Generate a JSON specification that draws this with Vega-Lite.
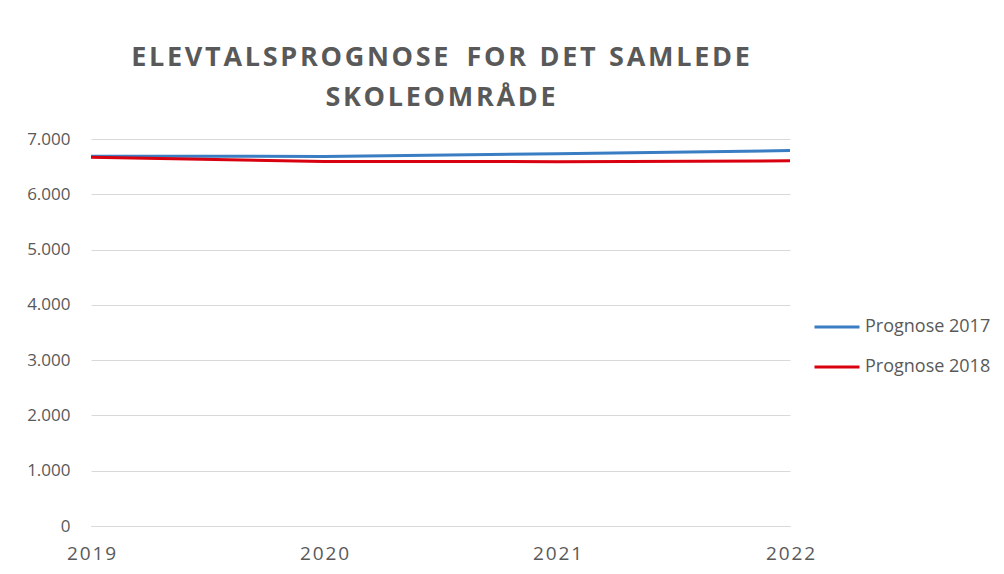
{
  "$schema": "https://vega.github.io/schema/vega-lite/v6.json",
  "width": 699,
  "height": 387,
  "autosize": {"type": "none"},
  "padding": {"left": 91, "top": 139, "right": 214, "bottom": 48},
  "background": "white",
  "title": {
    "text": ["E\u200aL\u200aE\u200aV\u200aT\u200aA\u200aL\u200aS\u200aP\u200aR\u200aO\u200aG\u200aN\u200aO\u200aS\u200aE\u2002\u2009F\u200aO\u200aR\u2002D\u200aE\u200aT\u2002S\u200aA\u200aM\u200aL\u200aE\u200aD\u200aE", "S\u200aK\u200aO\u200aL\u200aE\u200aO\u200aM\u200aR\u200aÅ\u200aD\u200aE"],
    "font": "Open Sans",
    "fontSize": 27,
    "fontWeight": "bold",
    "color": "#595959",
    "lineHeight": 40,
    "anchor": "middle",
    "offset": 18
  },
  "data": {
    "values": [
      {"year": 2019, "value": 6690, "series": "Prognose 2017"},
      {"year": 2020, "value": 6685, "series": "Prognose 2017"},
      {"year": 2021, "value": 6735, "series": "Prognose 2017"},
      {"year": 2022, "value": 6790, "series": "Prognose 2017"},
      {"year": 2019, "value": 6670, "series": "Prognose 2018"},
      {"year": 2020, "value": 6595, "series": "Prognose 2018"},
      {"year": 2021, "value": 6590, "series": "Prognose 2018"},
      {"year": 2022, "value": 6605, "series": "Prognose 2018"}
    ]
  },
  "mark": {"type": "line", "strokeWidth": 3},
  "encoding": {
    "x": {
      "field": "year",
      "type": "quantitative",
      "scale": {"domain": [2019, 2022], "nice": false, "zero": false},
      "axis": {
        "title": null,
        "values": [2019, 2020, 2021, 2022],
        "labelExpr": "join(split(toString(datum.value), ''), '\u200a')",
        "grid": false,
        "ticks": false,
        "domainColor": "#D9D9D9",
        "domainWidth": 1,
        "labelFont": "Open Sans",
        "labelFontSize": 19,
        "labelColor": "#595959",
        "labelPadding": 18,
        "labelFlush": false
      }
    },
    "y": {
      "field": "value",
      "type": "quantitative",
      "scale": {"domain": [0, 7000], "nice": false},
      "axis": {
        "title": null,
        "values": [0, 1000, 2000, 3000, 4000, 5000, 6000, 7000],
        "labelExpr": "replace(format(datum.value, ','), ',', '.')",
        "domain": false,
        "ticks": false,
        "gridColor": "#D9D9D9",
        "gridWidth": 1,
        "labelFont": "Open Sans",
        "labelFontSize": 17,
        "labelColor": "#595959",
        "labelPadding": 21
      }
    },
    "color": {
      "field": "series",
      "type": "nominal",
      "scale": {"domain": ["Prognose 2017", "Prognose 2018"], "range": ["#3A7DC3", "#D9000F"]},
      "legend": {
        "title": null,
        "orient": "none",
        "legendX": 722,
        "legendY": 164,
        "symbolType": "stroke",
        "symbolSize": 2025,
        "symbolStrokeWidth": 3,
        "labelFont": "Open Sans",
        "labelFontSize": 18,
        "labelColor": "#595959",
        "labelOffset": 4,
        "rowPadding": 7
      }
    }
  },
  "config": {"view": {"stroke": null}}
}
